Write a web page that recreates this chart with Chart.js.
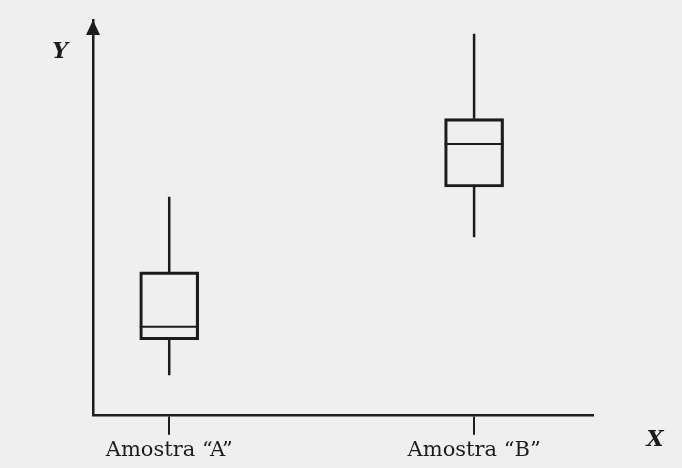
<!DOCTYPE html>
<html>
<head>
<meta charset="utf-8">
<script src="https://cdn.jsdelivr.net/npm/chart.js@4.4.1/dist/chart.umd.min.js"></script>
<style>
  html, body { margin: 0; padding: 0; background: #efefef; }
  #wrap { width: 682px; height: 468px; position: relative; }
</style>
</head>
<body>
<div id="wrap"><canvas id="box-chart"></canvas></div>
<script>
// box plot values (y scale 0..100, no units shown)
const categories = ['Amostra “A”', 'Amostra “B”'];
const positions = [1, 2];
const mins = [10, 45];
const q1s = [19, 57.7];
const medians = [22.3, 68.6];
const q3s = [36.2, 75];
const maxs = [55.2, 96.5];

const ink = '#1c1c1c';
const serif = '"DejaVu Serif", "Liberation Serif", serif';

// whiskers, medians, axis arrow and axis letters
const boxExtras = {
  id: 'boxExtras',
  afterDatasetsDraw(chart) {
    const { ctx, chartArea, scales } = chart;
    const x = scales.x, y = scales.y;
    const meta = chart.getDatasetMeta(0);
    ctx.save();
    ctx.strokeStyle = ink;
    ctx.lineWidth = 2.5;
    positions.forEach((p, i) => {
      const px = x.getPixelForValue(p);
      const bar = meta.data[i];
      const half = bar.width / 2;
      ctx.beginPath();
      ctx.moveTo(px, y.getPixelForValue(maxs[i]));
      ctx.lineTo(px, y.getPixelForValue(q3s[i]));
      ctx.moveTo(px, y.getPixelForValue(q1s[i]));
      ctx.lineTo(px, y.getPixelForValue(mins[i]));
      ctx.stroke();
      ctx.lineWidth = 2;
      ctx.beginPath();
      ctx.moveTo(px - half, y.getPixelForValue(medians[i]));
      ctx.lineTo(px + half, y.getPixelForValue(medians[i]));
      ctx.stroke();
      ctx.lineWidth = 2.5;
    });

    // arrow head on the Y axis
    const ax = chartArea.left;
    ctx.fillStyle = ink;
    ctx.beginPath();
    ctx.moveTo(ax, chartArea.top);
    ctx.lineTo(ax - 7, chartArea.top + 15);
    ctx.lineTo(ax + 7, chartArea.top + 15);
    ctx.closePath();
    ctx.fill();

    ctx.font = 'italic bold 22px ' + serif;
    ctx.textAlign = 'center';
    ctx.textBaseline = 'middle';
    ctx.fillText('Y', ax - 33, chartArea.top + 32);
    ctx.fillText('X', chartArea.right + 62, chartArea.bottom + 25);
    ctx.restore();
  }
};

new Chart(document.getElementById('box-chart'), {
  type: 'bar',
  data: {
    datasets: [{
      data: positions.map((p, i) => ({ x: p, y: [q1s[i], q3s[i]] })),
      backgroundColor: 'rgba(0,0,0,0)',
      borderColor: ink,
      borderWidth: 2.5,
      borderSkipped: false,
      barThickness: 59
    }]
  },
  options: {
    responsive: true,
    maintainAspectRatio: false,
    animation: false,
    layout: { padding: { left: 85, right: 89, top: 20, bottom: 2 } },
    plugins: { legend: { display: false }, tooltip: { enabled: false } },
    scales: {
      x: {
        type: 'linear',
        offset: false,
        min: 0.75,
        max: 2.39,
        afterBuildTicks: (scale) => { scale.ticks = positions.map(v => ({ value: v })); },
        ticks: {
          autoSkip: false,
          maxRotation: 0,
          padding: 3,
          color: ink,
          font: { family: serif, size: 21 },
          callback: (v) => categories[positions.indexOf(v)]
        },
        grid: { offset: false, drawOnChartArea: false, drawTicks: true, tickLength: 20, color: ink, lineWidth: 2 },
        border: { display: true, color: ink, width: 2.5 }
      },
      y: {
        min: 0,
        max: 100,
        ticks: { display: false },
        grid: { display: false },
        border: { display: true, color: ink, width: 2.5 }
      }
    }
  },
  plugins: [boxExtras]
});
</script>
</body>
</html>
